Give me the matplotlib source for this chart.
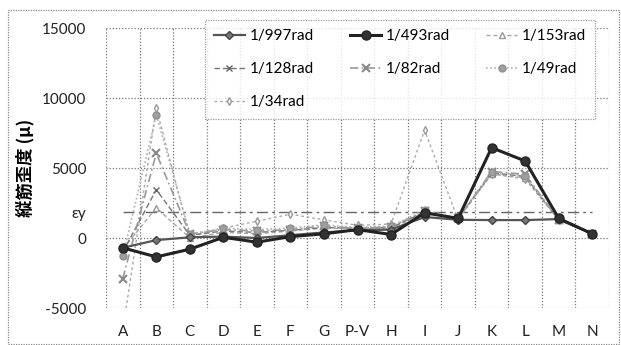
import matplotlib
matplotlib.use("Agg")
import matplotlib.pyplot as plt
from matplotlib.patches import Rectangle

plt.rcParams['font.family'] = ['Lato', 'DejaVu Sans']
plt.rcParams['axes.unicode_minus'] = False

# Measurement points along the bar
points = ["A", "B", "C", "D", "E", "F", "G", "P-V", "H", "I", "J", "K", "L", "M", "N"]

# Longitudinal bar strain (μ) at each drift angle
s_997 = [-700, -150, 50, 100, 0, 200, 400, 550, 600, 1500, 1300, 1280, 1280, 1350, 300]
s_493 = [-700, -1350, -800, 50, -300, 100, 300, 600, 250, 1800, 1400, 6450, 5500, 1400, 300]
s_153 = [-800, 2150, 0, 400, 300, 500, 700, 650, 700, 1800, 1400, 4550, 4300, 1300, 300]
s_128 = [-1000, 3450, 200, 500, 400, 550, 750, 700, 750, 1850, 1400, 4650, 4400, 1300, 300]
s_82 = [-2900, 6050, 300, 600, 500, 600, 850, 700, 800, 1900, 1400, 4750, 4550, 1300, 300]
s_49 = [-1300, 8800, 300, 700, 600, 700, 950, 750, 850, 2000, 1400, 4700, 4450, 1300, 300]
s_34 = [-6600, 9300, 100, 700, 1200, 1700, 1300, 900, 1000, 7700, 1300, 4600, 4200, 1300, 300]

# Yield strain
eps_y = 1850

x = list(range(len(points)))

fig = plt.figure(figsize=(6.21, 3.45), dpi=100)
ax = fig.add_axes([106 / 621, 1 - 308 / 345, 503 / 621, 280 / 345])

series = [
    ("1/997rad", s_997, dict(color="#555555", lw=1.6, ls="-", marker="D", ms=4,
                             mfc="#777777", mec="#444444", zorder=5)),
    ("1/493rad", s_493, dict(color="#222222", lw=2.2, ls="-", marker="o", ms=6.5,
                             mfc="#333333", mec="#222222", zorder=6)),
    ("1/153rad", s_153, dict(color="#a8a8a8", lw=1.0, ls=(0, (3, 2)), marker="^", ms=4,
                             mfc="white", mec="#999999", zorder=3)),
    ("1/128rad", s_128, dict(color="#777777", lw=1.0, ls=(0, (4, 2)), marker="x", ms=5,
                             mec="#666666", zorder=3)),
    ("1/82rad", s_82, dict(color="#999999", lw=1.2, ls=(0, (5, 2, 1, 2)), marker="x", ms=6,
                           mec="#888888", mew=1.5, zorder=3)),
    ("1/49rad", s_49, dict(color="#b0b0b0", lw=1.2, ls=(0, (1, 1.5)), marker="o", ms=5,
                           mfc="#a0a0a0", mec="#909090", zorder=3)),
    ("1/34rad", s_34, dict(color="#aaaaaa", lw=1.0, ls=(0, (2, 2)), marker="d", ms=4,
                           mfc="white", mec="#999999", zorder=2)),
]

handles = {}
for label, vals, style in series:
    h, = ax.plot(x, vals, label=label, **style)
    handles[label] = h

# Yield strain reference line
ax.plot(x, [eps_y] * len(x), color="#666666", lw=1.0, ls=(0, (8, 3, 2, 3)), zorder=1)

ax.set_xlim(-0.5, len(points) - 0.5)
ax.set_ylim(-5000, 15000)

ax.set_xticks(x)
ax.set_xticklabels(points)
ax.set_xticks([i - 0.5 for i in range(len(points) + 1)], minor=True)
ax.set_yticks([-5000, 0, 5000, 10000, 15000])
ax.set_yticks([eps_y], minor=True)
ax.set_yticklabels(["εy"], minor=True)

ax.tick_params(axis="both", which="both", length=0, labelsize=11, colors="#222222")
ax.tick_params(axis="x", which="major", pad=12)
ax.tick_params(axis="y", which="both", pad=14)

ax.grid(False)
ax.xaxis.grid(True, which="minor", color="#777777", ls=(0, (1, 1.5)), lw=0.9)
ax.yaxis.grid(True, which="major", color="#777777", ls=(0, (1, 1.5)), lw=0.9)
ax.set_axisbelow(True)
for sp in ax.spines.values():
    sp.set_visible(False)

fig.text(25 / 621, 1 - 168 / 345, "縦筋歪度 (μ)", rotation=90, ha="center", va="center",
         fontsize=12.5, fontweight="bold", family=["Noto Sans CJK JP", "DejaVu Sans"])

# Legend laid out row by row in three columns
order = ["1/997rad", "1/128rad", "1/34rad", "1/493rad", "1/82rad", "1/153rad", "1/49rad"]
leg = fig.legend([handles[k] for k in order], order, ncol=3,
                 bbox_to_anchor=(205 / 621, 1 - 115 / 345, 390 / 621, 95 / 345),
                 loc="upper left", mode="expand", fontsize=11, frameon=True,
                 fancybox=False, handlelength=2.0, handletextpad=0.3,
                 borderpad=0.6, labelspacing=1.25, columnspacing=1.0,
                 borderaxespad=0)
leg.get_frame().set_edgecolor("#888888")
leg.get_frame().set_linestyle((0, (1, 1)))
leg.get_frame().set_linewidth(0.9)
leg.set_zorder(10)

# Chart area border
fig.patches.append(Rectangle((8 / 621, 1 / 345), 611 / 621, 334 / 345,
                             transform=fig.transFigure, fill=False,
                             ec="#888888", lw=0.9, ls=(0, (1, 1))))

fig.savefig("out.png", dpi=100)
